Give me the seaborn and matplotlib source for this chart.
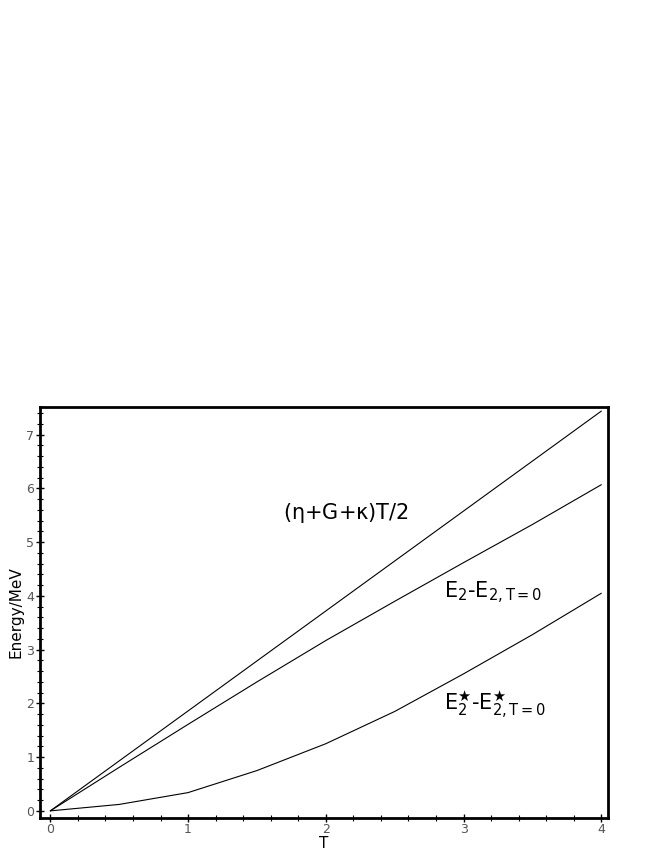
import pandas as pd
import matplotlib
matplotlib.use("Agg")
import matplotlib.pyplot as plt
from matplotlib.ticker import MultipleLocator
import seaborn as sns

# temperature grid and the three energy curves
T = [0, 0.5, 1, 1.5, 2, 2.5, 3, 3.5, 4]
e_linear = [0, 0.93, 1.86, 2.79, 3.72, 4.65, 5.58, 6.51, 7.44]
e_ground = [0, 0.81, 1.61, 2.40, 3.17, 3.90, 4.62, 5.33, 6.07]
e_excited = [0, 0.12, 0.34, 0.75, 1.25, 1.85, 2.55, 3.28, 4.05]

series_names = ["linear", "ground", "excited"]
labels = [r"($\eta$+G+$\kappa$)T/2",
          r"E$_2$-E$_{2,T=0}$",
          r"E$^\bigstar_2$-E$^\bigstar_{2,T=0}$"]
label_pos = [(1.69, 5.55), (2.86, 4.05), (2.86, 1.98)]

df = pd.DataFrame({
    "T": T * 3,
    "E": e_linear + e_ground + e_excited,
    "curve": [n for n in series_names for _ in T],
})

sns.set_style("ticks")
plt.rcParams["font.family"] = ["DejaVu Sans"]
plt.rcParams["mathtext.default"] = "regular"

fig = plt.figure(figsize=(6.64, 8.6), dpi=100)
ax = fig.add_axes([0.060, 0.049, 0.856, 0.478])

sns.lineplot(data=df, x="T", y="E", hue="curve",
             palette=["black"] * 3, linewidth=0.8, legend=False, ax=ax)

for text, (x, y) in zip(labels, label_pos):
    ax.text(x, y, text, fontsize=15, va="center", ha="left", color="black")

ax.set_xlim(-0.076, 4.05)
ax.set_ylim(-0.13, 7.52)
ax.xaxis.set_major_locator(MultipleLocator(1))
ax.xaxis.set_minor_locator(MultipleLocator(0.2))
ax.yaxis.set_major_locator(MultipleLocator(1))
ax.yaxis.set_minor_locator(MultipleLocator(0.2))
ax.tick_params(which="major", direction="inout", length=6, width=1,
               color="black", labelsize=9, labelcolor="#555555", pad=1)
ax.tick_params(which="minor", direction="inout", length=4, width=0.8,
               color="black")

for s in ax.spines.values():
    s.set_visible(True)
    s.set_linewidth(2)
    s.set_color("black")

ax.set_xlabel("T", fontsize=11, labelpad=0, color="black")
ax.set_ylabel("Energy/MeV", fontsize=11, labelpad=2, color="black")

fig.savefig("out.png", dpi=100)
